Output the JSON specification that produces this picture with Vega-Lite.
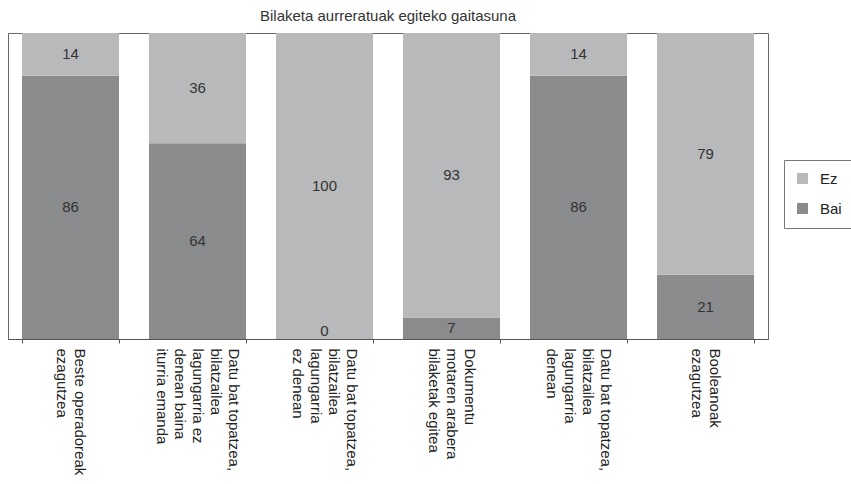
{
  "$schema": "https://vega.github.io/schema/vega-lite/v6.json",
  "width": 760,
  "height": 306,
  "autosize": {"type": "none"},
  "padding": {"left": 8, "top": 33, "right": 83, "bottom": 145},
  "title": {"text": "Bilaketa aurreratuak egiteko gaitasuna", "fontSize": 15, "fontWeight": "normal", "color": "#333333", "font": "Liberation Sans", "offset": 9, "anchor": "middle"},
  "config": {
    "view": {"stroke": "#666666", "strokeWidth": 1},
    "font": "Liberation Sans"
  },
  "data": {
    "values": [
      {"cat": "Beste operadoreak\nezagutzea", "grp": "Bai", "value": 86},
      {"cat": "Beste operadoreak\nezagutzea", "grp": "Ez", "value": 14},
      {"cat": "Datu bat topatzea,\nbilatzailea\nlagungarria ez\ndenean baina\niturria emanda", "grp": "Bai", "value": 64},
      {"cat": "Datu bat topatzea,\nbilatzailea\nlagungarria ez\ndenean baina\niturria emanda", "grp": "Ez", "value": 36},
      {"cat": "Datu bat topatzea,\nbilatzailea\nlagungarria\nez denean", "grp": "Bai", "value": 0},
      {"cat": "Datu bat topatzea,\nbilatzailea\nlagungarria\nez denean", "grp": "Ez", "value": 100},
      {"cat": "Dokumentu\nmotaren arabera\nbilaketak egitea", "grp": "Bai", "value": 7},
      {"cat": "Dokumentu\nmotaren arabera\nbilaketak egitea", "grp": "Ez", "value": 93},
      {"cat": "Datu bat topatzea,\nbilatzailea\nlagungarria\ndenean", "grp": "Bai", "value": 86},
      {"cat": "Datu bat topatzea,\nbilatzailea\nlagungarria\ndenean", "grp": "Ez", "value": 14},
      {"cat": "Booleanoak\nezagutzea", "grp": "Bai", "value": 21},
      {"cat": "Booleanoak\nezagutzea", "grp": "Ez", "value": 79}
    ]
  },
  "encoding": {
    "x": {
      "field": "cat", "type": "nominal", "sort": null,
      "scale": {"paddingInner": 0.236, "paddingOuter": 0.11},
      "axis": {
        "title": null, "labelAngle": 90, "labelAlign": "left", "labelBaseline": "middle",
        "labelFontSize": 15, "labelFont": "Liberation Sans", "labelColor": "#222222",
        "labelLineHeight": 18, "labelExpr": "split(datum.label, '\\n')",
        "labelOffset": {
          "condition": [
            {"test": "length(split(datum.value, '\\n')) == 5", "value": 36},
            {"test": "length(split(datum.value, '\\n')) == 4", "value": 27},
            {"test": "length(split(datum.value, '\\n')) == 3", "value": 18}
          ],
          "value": 9
        },
        "tickBand": "extent", "tickSize": 4, "tickColor": "#555555", "domainColor": "#555555",
        "labelPadding": 5, "labelOverlap": false, "labelBound": false, "labelLimit": 0
      }
    },
    "y": {
      "field": "value", "type": "quantitative", "stack": "zero",
      "scale": {"domain": [0, 100]}, "axis": null
    },
    "order": {"field": "grp", "sort": "ascending"}
  },
  "layer": [
    {
      "mark": {"type": "bar"},
      "encoding": {
        "color": {
          "field": "grp", "type": "nominal",
          "scale": {"domain": ["Ez", "Bai"], "range": ["#b8b9bb", "#8a8b8d"]},
          "legend": {
            "title": null, "orient": "none", "legendX": 776, "legendY": 127,
            "strokeColor": "#777777", "fillColor": "white", "padding": 11,
            "symbolType": "square", "symbolSize": 120, "symbolStrokeWidth": 0,
            "labelFontSize": 15, "labelFont": "Liberation Sans", "labelColor": "#222222",
            "rowPadding": 14, "labelOffset": 10
          }
        }
      }
    },
    {
      "mark": {"type": "text", "fontSize": 15, "color": "#333333", "baseline": "middle", "font": "Liberation Sans", "dy": {"expr": "datum.value == 0 ? -8 : 0"}},
      "encoding": {
        "y": {"field": "value", "type": "quantitative", "stack": "zero", "bandPosition": 0.5},
        "detail": {"field": "grp"},
        "text": {"field": "value", "type": "quantitative"}
      }
    }
  ]
}
